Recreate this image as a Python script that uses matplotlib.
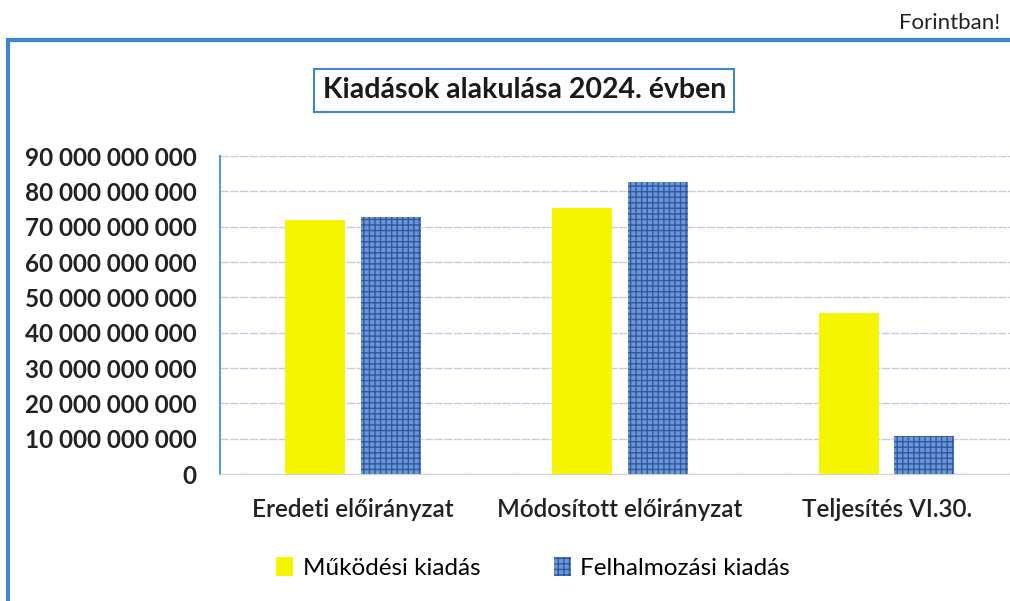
import numpy as np
import matplotlib.pyplot as plt
from matplotlib.patches import Rectangle, Patch
from matplotlib.ticker import FuncFormatter

categories = ["Eredeti előirányzat", "Módosított előirányzat", "Teljesítés VI.30."]
mukodesi = [71.9e9, 75.3e9, 45.6e9]
felhalmozasi = [72.7e9, 82.6e9, 10.8e9]
series_names = ["Működési kiadás", "Felhalmozási kiadás"]

plt.rcParams['font.family'] = ['Lato', 'DejaVu Sans']

fig = plt.figure(figsize=(10.1, 6.01), dpi=100)
ax = fig.add_axes([0.2178, 0.2113, 0.792, 0.529])

x = np.arange(len(categories))
w = 0.225
off = 0.142
blue_face = '#7096d2'
blue_hatch = '#2c5aa8'
ax.bar(x - off, mukodesi, w, color='#f5f500', edgecolor='none', zorder=3)
ax.bar(x + off, felhalmozasi, w, color=blue_face, edgecolor=blue_hatch,
       hatch='+++', linewidth=0, zorder=3)

ax.set_xlim(-0.5, 2.5)
ax.set_ylim(0, 90e9)
ax.set_yticks(np.arange(0, 90e9 + 1, 10e9))
ax.yaxis.set_major_formatter(FuncFormatter(
    lambda v, p: f"{int(round(v)):,}".replace(",", " ")))
ax.set_xticks(x)
ax.set_xticklabels(categories, fontsize=17.5, color='#222222', fontweight='semibold')
for lab in ax.get_yticklabels():
    lab.set_fontweight('bold')
    lab.set_fontsize(17.5)
    lab.set_color('#222222')
ax.tick_params(axis='y', length=0, pad=17)
ax.tick_params(axis='x', length=0, pad=17)

ax.grid(axis='y', color='#c9c9e2', linewidth=1, linestyle=(0, (6, 1)), zorder=0)
for s in ['top', 'right']:
    ax.spines[s].set_visible(False)
ax.spines['left'].set_color('#5b9bd5')
ax.spines['left'].set_linewidth(1.5)
ax.spines['bottom'].set_color('#d0d0e0')

# outer frame
fig.patches.append(Rectangle((0.008, -0.1), 1.2, 1 - 40 / 601 + 0.1,
                             transform=fig.transFigure, fill=False,
                             edgecolor='#3e87cf', linewidth=3))

fig.text(0.519, 0.850, "Kiadások alakulása 2024. évben", ha='center', va='center',
         fontsize=20.5, fontweight='bold', color='#1a1a1a',
         bbox=dict(facecolor='white', edgecolor='#3e87cf', linewidth=1.5,
                   boxstyle='square,pad=0.3'))
fig.text(0.99, 0.962, "Forintban!", ha='right', va='center', fontsize=16,
         color='#222222')

handles = [Patch(facecolor='#f5f500', edgecolor='none'),
           Patch(facecolor=blue_face, edgecolor=blue_hatch, hatch='+++', linewidth=0)]
fig.legend(handles, series_names, loc='center', bbox_to_anchor=(0.528, 0.055),
           ncol=2, frameon=False, fontsize=17.5, handlelength=0.7,
           handleheight=0.8, handletextpad=0.4, columnspacing=3.0)

fig.savefig("out.png", dpi=100)
